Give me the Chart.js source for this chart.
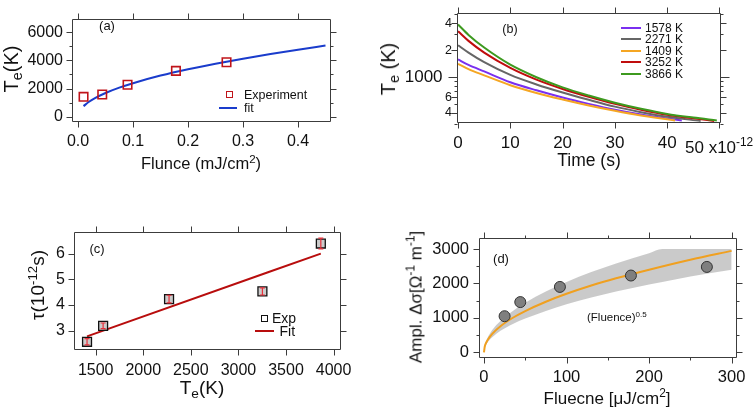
<!DOCTYPE html>
<html><head><meta charset="utf-8">
<script src="https://cdn.jsdelivr.net/npm/chart.js@4.4.1/dist/chart.umd.min.js"></script>
<style>
html,body{margin:0;padding:0;background:#fff;}
#wrap{position:relative;width:756px;height:409px;overflow:hidden;font-family:"Liberation Sans",Arial,Helvetica,sans-serif;color:#111;}
canvas{position:absolute;left:0;top:0;}
.t{position:absolute;white-space:nowrap;line-height:1;}
.sb{font-size:0.72em;position:relative;top:0.3em;}
.sp{font-size:0.7em;position:relative;top:-0.55em;}
</style></head><body>
<div id="wrap">
<canvas id="ca" width="756" height="409"></canvas>
<canvas id="cb" width="756" height="409"></canvas>
<canvas id="cc" width="756" height="409"></canvas>
<canvas id="cd" width="756" height="409"></canvas>
</div>
<script>
// ---------------- panel (a) data ----------------
const A_FLUENCE = [0.01, 0.044, 0.09, 0.178, 0.27];
const A_TE = [1409, 1578, 2271, 3252, 3866];
const A_FIT_FLUENCE = [0.01, 0.02, 0.03, 0.05, 0.075, 0.1, 0.15, 0.2, 0.25, 0.3, 0.35, 0.4, 0.45];
const A_FIT_TE = [750, 1060, 1300, 1680, 2060, 2380, 2920, 3370, 3760, 4120, 4450, 4760, 5050];
const A_X_TICKS = [0, 0.1, 0.2, 0.3, 0.4];
const A_Y_TICKS = [0, 2000, 4000, 6000];
const A_Y_MINOR = [1000, 3000, 5000];

// ---------------- panel (b) data ----------------
const B_LABELS = ['1578 K', '2271 K', '1409 K', '3252 K', '3866 K'];
const B_T_1578 = [0, 2, 5, 10, 15, 20, 25, 30, 35, 40, 42.8];
const B_TE_1578 = [1578, 1370, 1160, 880, 715, 595, 505, 435, 385, 348, 330];
const B_T_2271 = [0, 2, 5, 10, 15, 20, 25, 30, 35, 40, 46.4];
const B_TE_2271 = [2271, 1880, 1470, 1060, 830, 675, 560, 470, 408, 362, 326];
const B_T_1409 = [0, 2, 5, 10, 15, 20, 25, 30, 35, 40, 41.5];
const B_TE_1409 = [1409, 1230, 1050, 815, 668, 565, 485, 423, 375, 340, 330];
const B_T_3252 = [0, 2, 5, 10, 15, 20, 25, 30, 35, 40, 45, 49];
const B_TE_3252 = [3252, 2540, 1880, 1270, 940, 740, 605, 505, 435, 382, 348, 326];
const B_T_3866 = [0, 2, 5, 10, 15, 20, 25, 30, 35, 40, 45, 49.5];
const B_TE_3866 = [3866, 2960, 2140, 1380, 1000, 770, 625, 520, 445, 390, 355, 330];
const B_X_TICKS = [0, 10, 20, 30, 40, 50];
const B_Y_LABELED = [400, 600, 1000, 2000, 4000];
const B_Y_MINOR = [300, 500, 700, 800, 900, 3000, 5000];

// ---------------- panel (c) data ----------------
const C_TE = [1409, 1578, 2271, 3252, 3866];
const C_TAU = [2.57, 3.19, 4.23, 4.53, 6.39];
const C_ERR = [0.12, 0.11, 0.15, 0.14, 0.21];
const C_FIT_TE = [1409, 3866];
const C_FIT_TAU = [2.78, 6.0];
const C_X_TICKS = [1500, 2000, 2500, 3000, 3500, 4000];
const C_Y_TICKS = [3, 4, 5, 6];

// ---------------- panel (d) data ----------------
const D_FLUENCE = [25, 44, 92, 178, 270];
const D_AMPL = [1050, 1460, 1900, 2230, 2480];
const D_FIT_FLUENCE = [0, 1, 3, 6, 10, 20, 35, 50, 75, 100, 130, 160, 200, 250, 300];
const D_FIT_AMPL = [0, 170, 295, 415, 540, 760, 1005, 1200, 1470, 1700, 1940, 2150, 2400, 2690, 2945];
const D_BAND_FLUENCE = [0, 1, 3, 6, 10, 20, 35, 50, 75, 100, 130, 160, 200, 216, 250, 300];
const D_BAND_HI = [0, 205, 355, 500, 650, 910, 1205, 1440, 1765, 2040, 2330, 2580, 2880, 3000, 3000, 3000];
const D_BAND_LO = [0, 140, 240, 340, 440, 625, 825, 985, 1205, 1395, 1590, 1765, 1970, 2040, 2205, 2400];
const D_X_TICKS = [0, 100, 200, 300];
const D_X_MINOR = [50, 150, 250];
const D_Y_TICKS = [0, 1000, 2000, 3000];
const D_Y_MINOR = [500, 1500, 2500];

// ---------------- helpers ----------------
const FONT = '"Liberation Sans", Arial, Helvetica, sans-serif';
Chart.defaults.font.family = FONT;
Chart.defaults.color = '#111';
const W = 756, H = 409;
const pts = (xs, ys) => xs.map((x, i) => ({x: x, y: ys[i]}));

const frameTicks = {
  id: 'frameTicks',
  afterDraw(chart, args, o) {
    if (!o || !o.on) return;
    const {ctx, chartArea: a} = chart;
    const xs = chart.scales.x, ys = chart.scales.y;
    ctx.save();
    ctx.strokeStyle = '#3c3c3c';
    ctx.lineWidth = 1;
    const L = Math.round(a.left) + 0.5, R = Math.round(a.right) - 0.5;
    const T = Math.round(a.top) + 0.5, B = Math.round(a.bottom) - 0.5;
    ctx.beginPath();
    ctx.rect(L, T, R - L, B - T);
    const tx = (v, len) => { const p = Math.round(xs.getPixelForValue(v)) + 0.5; ctx.moveTo(p, B); ctx.lineTo(p, B + len); ctx.moveTo(p, T); ctx.lineTo(p, T - len); };
    const ty = (v, len) => { const p = Math.round(ys.getPixelForValue(v)) + 0.5; ctx.moveTo(L, p); ctx.lineTo(L - len, p); ctx.moveTo(R, p); ctx.lineTo(R + len, p); };
    (o.xMajor || []).forEach(v => tx(v, 6));
    (o.xMinor || []).forEach(v => tx(v, 3));
    (o.yMajor || []).forEach(v => ty(v, 6));
    (o.yMinor || []).forEach(v => ty(v, 3));
    (o.yLong || []).forEach(v => ty(v, 9));
    ctx.stroke();
    ctx.restore();
  }
};
const errorBars = {
  id: 'errorBars',
  afterDatasetsDraw(chart, args, o) {
    if (!o || !o.x) return;
    const {ctx} = chart, xs = chart.scales.x, ys = chart.scales.y;
    ctx.save();
    ctx.strokeStyle = o.color;
    ctx.lineWidth = 1.2;
    ctx.beginPath();
    o.x.forEach((xv, i) => {
      const px = xs.getPixelForValue(xv);
      const y1 = ys.getPixelForValue(o.y[i] - o.err[i]), y2 = ys.getPixelForValue(o.y[i] + o.err[i]);
      ctx.moveTo(px, y1); ctx.lineTo(px, y2);
      ctx.moveTo(px - 2.5, y1); ctx.lineTo(px + 2.5, y1);
      ctx.moveTo(px - 2.5, y2); ctx.lineTo(px + 2.5, y2);
    });
    ctx.stroke();
    ctx.restore();
  }
};
Chart.register(frameTicks, errorBars);

function axis(type, min, max, tickVals, fmt, size, pad) {
  return {
    type: type, min: min, max: max,
    grid: {display: false, drawTicks: false},
    border: {display: false},
    afterBuildTicks: s => { s.ticks = tickVals.map(v => ({value: v})); },
    ticks: {font: {size: size, family: FONT}, color: '#111', padding: pad, callback: fmt, maxRotation: 0, autoSkip: false}
  };
}

function makeChart(id, area, xScale, yScale, datasets, plugins) {
  xScale.afterFit = s => { s.height = H - area.bottom; };
  yScale.afterFit = s => { s.width = area.left; };
  return new Chart(document.getElementById(id), {
    type: 'scatter',
    data: {datasets: datasets},
    options: {
      responsive: false, animation: false, events: [],
      layout: {padding: {left: 0, top: area.top, right: W - area.right, bottom: 0}},
      scales: {x: xScale, y: yScale},
      plugins: Object.assign({legend: {display: false}, tooltip: {enabled: false}}, plugins)
    }
  });
}
const lineDS = (data, color, width) => ({
  data: data, showLine: true, borderColor: color, borderWidth: width, pointRadius: 0,
  cubicInterpolationMode: 'monotone', tension: 0.4, fill: false
});

// ---------------- panel (a) ----------------
makeChart('ca', {left: 72, right: 331, top: 6, bottom: 122},
  axis('linear', -0.011, 0.46, A_X_TICKS, v => v.toFixed(1), 16, 10),
  axis('linear', -380, 6970, A_Y_TICKS, v => String(v), 16, 9),
  [
    {data: pts(A_FLUENCE, A_TE), pointStyle: 'rect', pointRadius: 6, borderColor: '#c0141a', borderWidth: 1.6, backgroundColor: 'rgba(0,0,0,0)'},
    lineDS(pts(A_FIT_FLUENCE, A_FIT_TE), '#1a3ccc', 2)
  ],
  {frameTicks: {on: true, xMajor: A_X_TICKS, yMajor: A_Y_TICKS, yMinor: A_Y_MINOR}});

// ---------------- panel (b) ----------------
const B_COLORS = ['#7a2ff0', '#666666', '#f5a623', '#c00d0d', '#3d9a1f'];
const B_SERIES = [pts(B_T_1578, B_TE_1578), pts(B_T_2271, B_TE_2271), pts(B_T_1409, B_TE_1409), pts(B_T_3252, B_TE_3252), pts(B_T_3866, B_TE_3866)];
const bY = axis('logarithmic', 309, 5260, B_Y_LABELED, v => (v === 1000 ? '1000  ' : String(v).charAt(0)), 12, 5);
bY.ticks.font = c => ({size: (c.tick && c.tick.value === 1000) ? 17 : 12.5, family: FONT});
makeChart('cb', {left: 457, right: 721, top: 6, bottom: 123},
  axis('linear', -0.2, 50.3, B_X_TICKS, v => (v === 50 ? '' : String(v)), 17, 10),
  bY,
  B_SERIES.map((s, i) => lineDS(s, B_COLORS[i], 2)).reverse(),
  {frameTicks: {on: true, xMajor: B_X_TICKS, yLong: [1000], yMajor: [400, 600, 2000, 4000], yMinor: B_Y_MINOR}});

// ---------------- panel (c) ----------------
makeChart('cc', {left: 74, right: 341, top: 232, bottom: 350},
  axis('linear', 1272, 4078, C_X_TICKS, v => String(v), 16, 10.5),
  axis('linear', 2.25, 6.84, C_Y_TICKS, v => String(v), 16, 9),
  [
    {data: pts(C_TE, C_TAU), pointStyle: 'rect', pointRadius: 6.3, borderColor: '#111', borderWidth: 1.3, backgroundColor: 'rgba(185,185,185,0.75)'},
    lineDS(pts(C_FIT_TE, C_FIT_TAU), '#b80d0d', 2)
  ],
  {frameTicks: {on: true, xMajor: C_X_TICKS, yMajor: C_Y_TICKS},
   errorBars: {x: C_TE, y: C_TAU, err: C_ERR, color: '#e8303a'}});

// ---------------- panel (d) ----------------
makeChart('cd', {left: 479, right: 737, top: 238, bottom: 358},
  axis('linear', -6, 306.5, D_X_TICKS, v => String(v), 16.5, 9.5),
  axis('linear', -162, 3319, D_Y_TICKS, v => String(v), 16.5, 10),
  [
    {data: pts(D_FLUENCE, D_AMPL), pointStyle: 'circle', pointRadius: 5.5, borderColor: '#333', borderWidth: 1, backgroundColor: '#7f7f7f'},
    lineDS(pts(D_FIT_FLUENCE, D_FIT_AMPL), '#f0a020', 2),
    Object.assign(lineDS(pts(D_BAND_FLUENCE, D_BAND_HI), 'rgba(0,0,0,0)', 0), {fill: '+1', backgroundColor: 'rgba(196,196,196,0.9)'}),
    lineDS(pts(D_BAND_FLUENCE, D_BAND_LO), 'rgba(0,0,0,0)', 0)
  ],
  {frameTicks: {on: true, xMajor: D_X_TICKS, xMinor: D_X_MINOR, yMajor: D_Y_TICKS, yMinor: D_Y_MINOR}});

// ---------------- text overlays ----------------
const wrap = document.getElementById('wrap');
function txt(html, x, y, size, mode) {
  const d = document.createElement('div');
  d.className = 't';
  d.innerHTML = html;
  d.style.left = x + 'px';
  d.style.top = y + 'px';
  d.style.fontSize = size + 'px';
  d.style.transform = mode === 'v' ? 'translate(-50%,-50%) rotate(-90deg)' : (mode === 'l' ? 'translate(0,-50%)' : 'translate(-50%,-50%)');
  wrap.appendChild(d);
  return d;
}
function box(x, y, w, h, css) {
  const d = document.createElement('div');
  d.style.cssText = 'position:absolute;left:' + x + 'px;top:' + y + 'px;width:' + w + 'px;height:' + h + 'px;' + css;
  wrap.appendChild(d);
}

// (a)
txt('(a)', 107, 25, 13, 'c');
box(225.5, 91, 5, 5, 'border:1.6px solid #c0141a;');
txt('Experiment', 244, 95, 12.5, 'l');
box(219, 107, 18, 2, 'background:#1a3ccc;');
txt('fit', 244, 107.7, 12.5, 'l');
txt('T<span class="sb">e</span>(K)', 11, 69, 20, 'v');
txt('Flunce (mJ/cm<span class="sp">2</span>)', 201, 163, 16.5, 'c');

// (b)
txt('(b)', 510, 29, 12.5, 'c');
B_LABELS.forEach((lab, i) => {
  const y = 27.5 + i * 11.6;
  box(621, y - 1, 20, 2, 'background:' + B_COLORS[i] + ';');
  txt(lab, 645, y, 12, 'l');
});
txt('T<span class="sb">e</span> (K)', 388, 69, 20, 'v');
txt('Time (s)', 589, 161, 17.5, 'c');
txt('50 x10<span class="sp">-12</span>', 685, 147, 17, 'l');

// (c)
txt('(c)', 97, 248, 13, 'c');
box(261, 315.3, 5, 5, 'border:1.2px solid #111;');
txt('Exp', 272, 318.3, 14, 'l');
box(255, 329.7, 19, 2, 'background:#b80d0d;');
txt('Fit', 279.5, 330.7, 14, 'l');
txt('τ(10<span class="sp">-12</span>s)', 37, 285, 19, 'v');
txt('T<span class="sb">e</span>(K)', 202, 387, 19, 'c');

// (d)
txt('(d)', 501, 258, 13, 'c');
txt('(Fluence)<span class="sp">0.5</span>', 587, 318, 11.5, 'l');
txt('Ampl. Δσ[Ω<span class="sp">-1</span> m<span class="sp">-1</span>]', 416, 297, 17, 'v');
txt('Fluecne [μJ/cm<span class="sp">2</span>]', 607, 398, 17, 'c');
</script>
</body></html>
